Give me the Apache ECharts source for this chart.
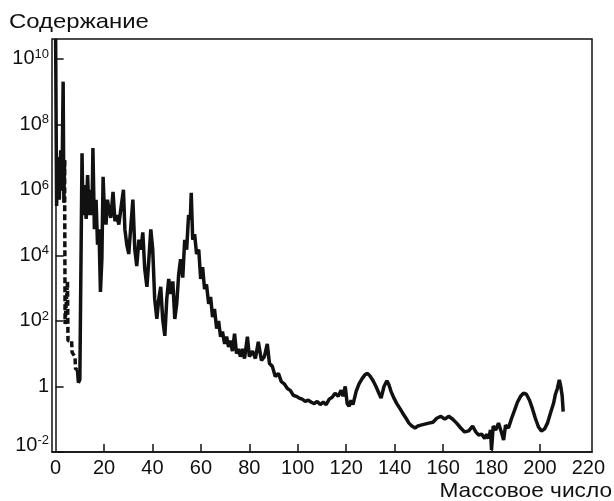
<!DOCTYPE html>
<html>
<head>
<meta charset="utf-8">
<script src="https://cdn.jsdelivr.net/npm/echarts@6/dist/echarts.min.js"></script>
<style>
html,body{margin:0;padding:0;background:#fff;}
#c{width:614px;height:501px;}
</style>
</head>
<body>
<div id="c"></div>
<script>
// Tick labels
const xTickLabels = [0, 20, 40, 60, 80, 100, 120, 140, 160, 180, 200, 220];
const xTickMarks = [20, 40, 60, 80, 100, 120, 140, 160, 180, 200];
const yTickLabels = [0.01, 1, 1e2, 1e4, 1e6, 1e8, 1e10];

// H / He region (solid)
const lightMass = [0, 0.4, 1.0, 1.5, 2.1, 2.6, 3.1, 3.4, 3.7];
const lightAbundance = [4.0e10, 3.2e5, 1.0e7, 5.0e5, 1.6e7, 1.0e6, 2.0e9, 4.0e5, 8.0e6];

// Li / Be / B gap (dashed)
const gapMass = [3.7, 3.9, 4.9, 5.1, 6.6, 6.8, 8.0, 8.2, 9.0];
const gapAbundance = [8.0e6, 80, 1600, 25, 25, 11, 8, 3.5, 3.2];

// Main curve (solid)
const mainMass = [9.0, 9.4, 10.0, 10.9, 11.3, 11.9, 12.6, 13.2, 13.8, 14.4, 15.0, 15.4, 16.0, 16.7, 17.3, 17.9, 18.5, 19.1, 19.6, 20.2,
  20.8, 21.4, 22.0, 22.8, 23.7, 24.5, 25.3, 26.1, 26.9, 28.0, 28.6, 29.4, 30.2, 31.1, 31.9, 32.7, 33.5, 34.4, 35.2, 36.0,
  36.8, 37.7, 38.5, 39.3, 40.1, 40.9, 41.8, 42.6, 43.4, 44.2, 45.1, 45.9, 46.7, 47.5, 48.4, 49.2, 50.0, 50.8, 51.6, 52.5,
  53.3, 54.1, 54.9, 55.6, 56.0, 56.6, 57.4, 58.2, 59.1, 59.9, 60.7, 61.5, 62.3, 63.2, 64.0, 64.8, 65.6, 66.5, 67.3, 68.1,
  68.9, 69.8, 70.6, 71.4, 72.2, 73.0, 73.9, 74.7, 75.5, 76.3, 77.2, 78.0, 79.2, 80.0, 81.3, 82.5, 83.7, 85.0, 86.2, 87.4,
  88.3, 89.5, 90.7, 92.0, 93.2, 94.4, 95.7, 96.9, 98.1, 99.4, 100.6, 101.8, 103.1, 104.3, 105.6, 106.8, 108.0, 109.3, 110.5, 111.7,
  113.0, 114.2, 115.4, 116.7, 117.9, 118.7, 119.6, 120.4, 121.2, 122.0, 122.8, 124.1, 125.3, 126.5, 127.8, 128.8, 129.8, 131.1, 132.3, 133.5,
  134.4, 135.6, 136.8, 137.6, 138.5, 139.7, 140.9, 142.2, 143.4, 144.7, 145.9, 147.1, 148.4, 149.6, 150.8, 152.5, 154.1, 155.8, 157.4, 159.1,
  160.7, 162.3, 164.0, 165.6, 167.3, 168.9, 170.6, 172.2, 173.5, 174.7, 175.9, 177.2, 178.0, 178.8, 179.6, 180.0, 180.7, 181.7, 182.9, 184.2,
  185.0, 185.8, 187.0, 188.3, 189.5, 190.7, 192.0, 193.2, 194.4, 195.7, 196.9, 198.1, 199.4, 200.6, 201.9, 203.1, 204.3, 205.6, 206.4, 207.2,
  208.0, 208.6, 209.2, 209.6];
const mainAbundance = [3.2, 1.3, 1.6, 1.3e7, 1.7e5, 1.4e6, 1.3e5, 2.8e6, 1.7e5, 1.0e6, 1.7e5, 1.9e7, 6.3e4, 5.0e5, 2.1e4, 6.2e4, 760, 7.9e3, 2.5e6, 1.7e5,
  8.7e4, 5.0e5, 2.5e5, 1.4e5, 8.7e5, 1.1e5, 1.7e5, 8.7e4, 2.5e5, 1.0e6, 6.2e4, 2.1e4, 1.1e4, 8.7e4, 5.0e5, 1.5e4, 4.7e3, 3.0e4, 1.5e4, 5.0e4,
  3.8e3, 1.1e3, 7.6e3, 6.2e4, 1.5e4, 470, 115, 470, 1.1e3, 115, 35, 470, 1.9e3, 660, 1.6e3, 115, 330, 2.6e3, 7.6e3, 2.1e3,
  3.0e4, 1.5e4, 1.7e5, 1.2e5, 8.1e5, 3.0e4, 4.4e4, 1.1e4, 1.5e4, 1.9e3, 4.4e3, 930, 1.3e3, 330, 540, 130, 230, 58, 100, 33,
  47, 20, 33, 16, 25, 12, 41, 10, 14, 8.1, 14, 7.1, 33, 8.1, 12, 7.1, 23, 6.2, 8.1, 20,
  5.0, 4.1, 2.0, 2.5, 1.4, 1.2, 0.87, 0.76, 0.54, 0.50, 0.44, 0.41, 0.35, 0.38, 0.33, 0.30, 0.35, 0.28, 0.33, 0.28,
  0.41, 0.47, 0.62, 0.50, 0.76, 0.50, 1.0, 0.30, 0.25, 0.38, 0.28, 0.71, 1.2, 1.7, 2.3, 2.5, 2.1, 1.5, 1.0, 0.62,
  0.44, 1.0, 1.5, 1.15, 0.71, 0.44, 0.30, 0.21, 0.15, 0.107, 0.076, 0.062, 0.054, 0.062, 0.066, 0.071, 0.076, 0.081, 0.107, 0.123,
  0.10, 0.123, 0.10, 0.076, 0.054, 0.041, 0.044, 0.062, 0.041, 0.033, 0.035, 0.026, 0.035, 0.026, 0.047, 0.0115, 0.062, 0.047, 0.076, 0.038,
  0.023, 0.066, 0.054, 0.107, 0.186, 0.33, 0.50, 0.62, 0.58, 0.38, 0.21, 0.107, 0.058, 0.044, 0.050, 0.076, 0.15, 0.30, 0.58, 0.87,
  1.6, 1.0, 0.50, 0.17];

const zip = (xs, ys) => xs.map((x, i) => [x, ys[i]]);
const INK = '#111';
const FONT = '"Liberation Sans", Arial, sans-serif';

const chart = echarts.init(document.getElementById('c'), null, {renderer: 'canvas'});
chart.setOption({
  backgroundColor: '#fff',
  animation: false,
  grid: {left: 52, right: 22, top: 39, bottom: 49, show: true, borderColor: INK, borderWidth: 1.5, backgroundColor: 'transparent'},
  xAxis: {
    type: 'value', min: -1.5, max: 221.5,
    axisLine: {show: true, lineStyle: {color: INK, width: 1.5}},
    splitLine: {show: false},
    axisTick: {show: true, inside: true, length: 8, customValues: xTickMarks, lineStyle: {color: INK, width: 1.5}},
    axisLabel: {customValues: xTickLabels, color: INK, fontFamily: FONT, fontSize: 20, margin: 6}
  },
  yAxis: {
    type: 'log', logBase: 10, min: 0.01, max: 4e10, interval: 2,
    axisLine: {show: true, lineStyle: {color: INK, width: 1.5}},
    splitLine: {show: false},
    minorTick: {show: false},
    axisTick: {show: true, inside: true, length: 8, lineStyle: {color: INK, width: 1.5}},
    axisLabel: {
      margin: 3, color: INK, showMaxLabel: false,
      formatter: function (v) {
        const l = Math.log10(v);
        const e = Math.round(l);
        if (Math.abs(l - e) > 0.01 || yTickLabels.indexOf(Math.pow(10, e)) < 0 && e !== -2) return '';
        if (e === 0) return '{b|1}';
        if (e === -2) return '{b|10}{s|' + e + '}\n{gap| }';
        return '{b|10}{s|' + e + '}';
      },
      rich: {
        b: {fontFamily: FONT, fontSize: 20, color: INK, lineHeight: 22},
        s: {fontFamily: FONT, fontSize: 13, color: INK, lineHeight: 12, verticalAlign: 'top'},
        gap: {fontSize: 8, lineHeight: 14}
      }
    }
  },
  graphic: [
    {type: 'text', x: 9, y: 22, scaleX: 1.14, style: {text: 'Содержание', font: '21px ' + FONT, fill: INK, textAlign: 'left', textVerticalAlign: 'middle'}},
    {type: 'text', x: 612, y: 491, scaleX: 1.08, style: {text: 'Массовое число', font: '21px ' + FONT, fill: INK, textAlign: 'right', textVerticalAlign: 'middle'}}
  ],
  series: [
    {type: 'line', data: zip(lightMass, lightAbundance), symbol: 'none', lineStyle: {color: INK, width: 3.5}, clip: true},
    {type: 'line', data: zip(gapMass, gapAbundance), symbol: 'none', lineStyle: {color: INK, width: 3.5, type: [6, 3]}, clip: true},
    {type: 'line', data: zip(mainMass, mainAbundance), symbol: 'none', lineStyle: {color: INK, width: 3.5}, clip: true}
  ]
});
</script>
</body>
</html>
